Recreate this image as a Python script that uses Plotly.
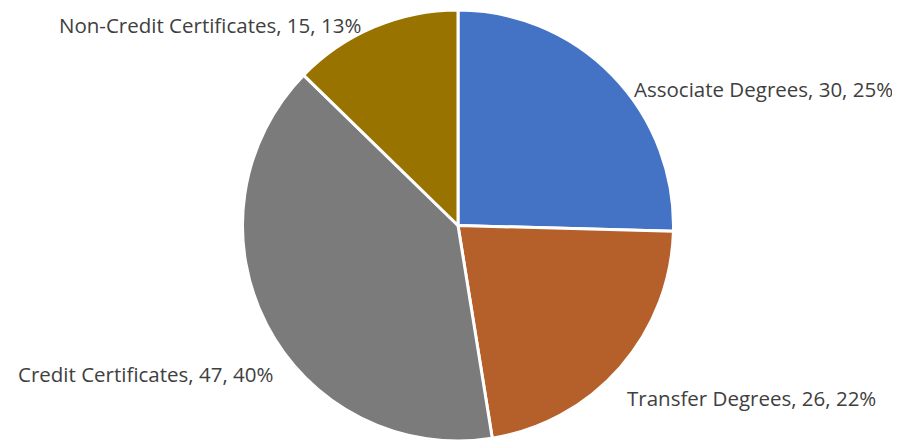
import plotly.graph_objects as go

labels = ["Associate Degrees", "Transfer Degrees", "Credit Certificates", "Non-Credit Certificates"]
values = [30, 26, 47, 15]
colors = ["#4472C4", "#B5602A", "#7B7B7B", "#987300"]

total = sum(values)
label_texts = [f"{l}, {v}, {round(100 * v / total)}%" for l, v in zip(labels, values)]

# label anchor positions (paper coords) and anchors, Excel-like placement
label_pos = [
    (0.6933, 0.8167, "left"),
    (0.6856, 0.0998, "left"),
    (0.2967, 0.1555, "right"),
    (0.3944, 0.9660, "right"),
]

fig = go.Figure(go.Pie(
    labels=labels,
    values=values,
    sort=False,
    direction="clockwise",
    rotation=0,
    marker=dict(colors=colors, line=dict(color="white", width=3)),
    textinfo="none",
    hoverinfo="label+value+percent",
    domain=dict(x=[0.0, 1.0], y=[0.0, 1.0]),
    showlegend=False,
))

for txt, (px, py, anc) in zip(label_texts, label_pos):
    fig.add_annotation(
        x=px, y=py, xref="paper", yref="paper",
        xanchor=anc, yanchor="middle",
        text=txt, showarrow=False,
        font=dict(family="Open Sans, Carlito, Calibri, sans-serif", size=20.5, color="#404040"),
    )

fig.update_layout(
    width=900,
    height=441,
    margin=dict(l=0, r=0, t=2, b=8),
    paper_bgcolor="white",
    plot_bgcolor="white",
)

fig.write_html("out.html")
